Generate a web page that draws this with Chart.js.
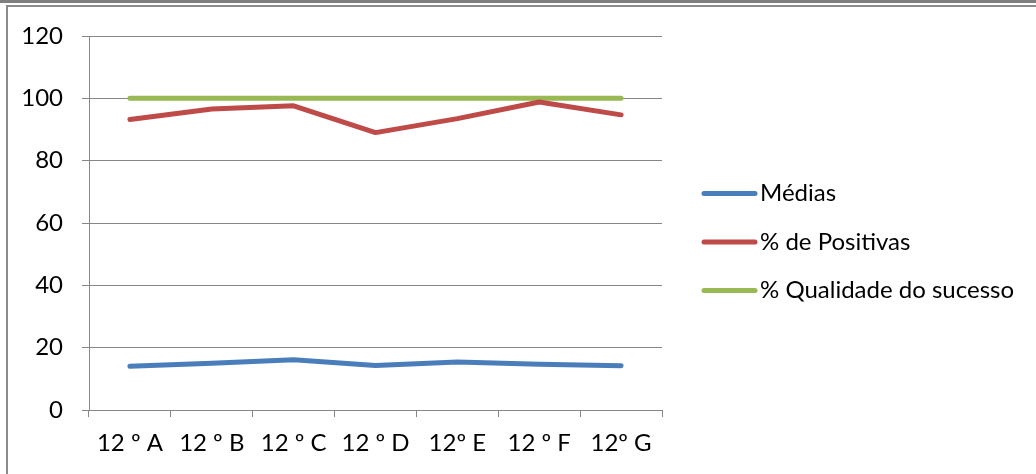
<!DOCTYPE html>
<html>
<head>
<meta charset="utf-8">
<script src="https://cdn.jsdelivr.net/npm/chart.js@4"></script>
<style>
  html, body { margin: 0; padding: 0; background: #fff; }
  #wrap { position: relative; width: 1036px; height: 474px; overflow: hidden; }
  #topbar { position: absolute; left: 0; top: 0; width: 1036px; height: 3px; background: #7f7f7f; }
  #frame { position: absolute; left: 6px; top: 5px; width: 1040px; height: 480px;
           border-left: 2px solid #8c8c8c; border-top: 2px solid #8c8c8c; }
  #c { position: absolute; left: 0; top: 0; }
</style>
</head>
<body>
<div id="wrap">
  <div id="topbar"></div>
  <div id="frame"></div>
  <canvas id="c" width="1036" height="474"></canvas>
</div>
<script>
const turmas = ['12 º A', '12 º B', '12 º C', '12 º D', '12º E', '12 º F', '12º G']
const medias = [14.0, 15.0, 16.1, 14.3, 15.4, 14.7, 14.2]
const positivas = [93.2, 96.6, 97.6, 89.0, 93.5, 98.8, 94.7]
const qualidade = [100, 100, 100, 100, 100, 100, 100]
const yTicks = [0, 20, 40, 60, 80, 100, 120]

const fontFam = 'Lato, "Open Sans", sans-serif'
const fontSize = 24
const gridCol = '#878787'

// legenda desenhada a mao, ao lado direito da area do grafico
const sideLegend = {
    id: 'sideLegend',
    afterDraw(chart) {
        const c = chart.ctx
        const area = chart.chartArea
        const x0 = area.right + 40
        const gap = 48.5
        const yMid = (area.top + area.bottom) / 2 + 19
        const n = chart.data.datasets.length
        c.save()
        c.font = fontSize + 'px ' + fontFam
        c.textBaseline = 'middle'
        c.textAlign = 'left'
        chart.data.datasets.forEach((ds, i) => {
            const y = yMid + (i - (n - 1) / 2) * gap
            c.strokeStyle = ds.borderColor
            c.lineWidth = 5
            c.lineCap = 'round'
            c.beginPath()
            c.moveTo(x0 + 2, y)
            c.lineTo(x0 + 53, y)
            c.stroke()
            c.fillStyle = '#000'
            c.fillText(ds.label, x0 + 58, y)
        })
        c.restore()
    }
}

const ctx = document.getElementById('c').getContext('2d')
const chart = new Chart(ctx, {
    type: 'line',
    data: {
        labels: turmas,
        datasets: [{
            label: 'Médias',
            data: medias,
            borderColor: '#4a7ebb',
            backgroundColor: '#4a7ebb',
            borderWidth: 5
        }, {
            label: '% de Positivas',
            data: positivas,
            borderColor: '#be4b48',
            backgroundColor: '#be4b48',
            borderWidth: 5
        }, {
            label: '% Qualidade do sucesso',
            data: qualidade,
            borderColor: '#98b954',
            backgroundColor: '#98b954',
            borderWidth: 5
        }]
    },
    plugins: [sideLegend],
    options: {
        responsive: false,
        animation: false,
        layout: {
            padding: { left: 0, top: 36, right: 374, bottom: 0 }
        },
        elements: {
            line: { tension: 0, borderCapStyle: 'round', borderJoinStyle: 'round' },
            point: { radius: 0, hoverRadius: 0 }
        },
        plugins: {
            tooltip: { enabled: false },
            legend: { display: false }
        },
        scales: {
            x: {
                offset: true,
                grid: {
                    offset: true,
                    drawOnChartArea: false,
                    color: gridCol,
                    tickLength: 7
                },
                border: { color: gridCol },
                ticks: {
                    color: '#000',
                    padding: 12,
                    maxRotation: 0,
                    font: { family: fontFam, size: fontSize }
                },
                afterFit: (s) => { s.height = 64 }
            },
            y: {
                min: 0,
                max: 120,
                afterBuildTicks: (s) => { s.ticks = yTicks.map(v => ({ value: v })) },
                grid: { color: gridCol, tickLength: 7 },
                border: { color: gridCol },
                ticks: {
                    color: '#000',
                    padding: 19,
                    font: { family: fontFam, size: fontSize }
                },
                afterFit: (s) => { s.width = 89 }
            }
        }
    }
})
</script>
</body>
</html>
